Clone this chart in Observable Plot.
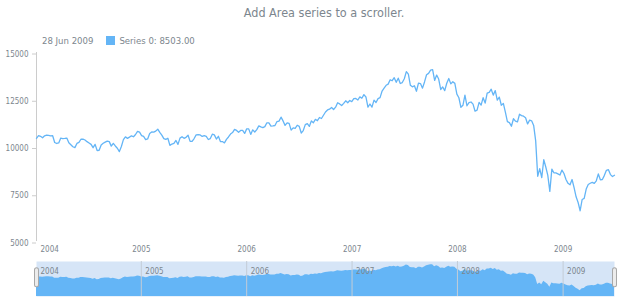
<!DOCTYPE html>
<html><head><meta charset="utf-8">
<script src="https://cdn.jsdelivr.net/npm/d3@7"></script>
<script src="https://cdn.jsdelivr.net/npm/@observablehq/plot@0.6"></script>
<style>
body{margin:0;background:#fff;font-family:"DejaVu Sans Condensed","DejaVu Sans",sans-serif;}
#wrap{position:relative;width:620px;height:300px;overflow:hidden;}
#title{position:absolute;top:5px;left:324px;transform:translateX(-50%);white-space:nowrap;font-size:12.5px;color:#7c868e;}
#legend{position:absolute;top:34px;left:42px;height:12px;font-size:9.5px;color:#7c868e;display:flex;align-items:center;white-space:nowrap;}
.sw{display:inline-block;width:9px;height:9px;background:#64b5f6;margin:0 4px 0 13px;}
#wrap svg{position:absolute;left:0;}
</style></head>
<body>
<div id="wrap">
  <div id="title"></div>
  <div id="legend"><span id="ldate"></span><span class="sw"></span><span id="lval"></span></div>
</div>
<script>
const title = "Add Area series to a scroller.";
const seriesName = "Series 0";
const firstWeek = new Date(2004, 0, 4);
const lastWeek = new Date(2009, 5, 28);
const yTicks = [5000, 7500, 10000, 12500, 15000];
const yearTicks = [2004, 2005, 2006, 2007, 2008, 2009];

// weekly values (one per week from 4 Jan 2004)
const values2004 = [10458,10600,10568,10488,10593,10628,10620,10584,10596,10240,10186,10213,10470,10443,10452,10473,10226,10118,10012,9967,10188,10243,10410,10417,10371,10282,10214,10140,9963,10140,9815,9825,10110,10196,10260,10314,10284,10047,10192,10055,9933,9757,10027,10387,10539,10456,10522,10592,10543,10661,10827,10783];
const values2005 = [10603,10558,10393,10427,10716,10796,10785,10841,10941,10774,10630,10442,10404,10461,10088,10157,10193,10345,10140,10471,10542,10460,10513,10623,10297,10303,10449,10640,10651,10640,10558,10600,10559,10397,10447,10678,10641,10419,10568,10292,10287,10215,10402,10530,10686,10766,10931,10877,10778,10875,10883,10718];
const values2006 = [10959,10960,10667,10907,10794,10919,11116,11061,11022,11076,11280,11279,11109,11120,11138,11347,11367,11578,11380,11144,11278,11247,10891,11014,10989,11150,11091,10739,10869,11185,11240,11088,11381,11284,11464,11392,11560,11508,11679,11851,11960,12002,12090,11986,12108,12342,12280,12194,12307,12445,12343,12463];
const values2007 = [12398,12556,12566,12487,12653,12580,12768,12647,12114,12276,12110,12481,12354,12560,12612,12961,13120,13264,13326,13556,13507,13668,13424,13640,13360,13409,13611,13990,13851,13266,13182,13240,12950,13379,13358,13114,13443,13821,13896,14066,14093,13522,13807,13595,13043,13177,12981,13372,13625,13339,13450,13366];
const values2008 = [12800,12606,12099,12207,12743,12182,12348,12381,12266,11894,11951,12361,12216,12610,12325,12849,12891,13058,12745,12986,12480,12638,12210,12308,11843,11346,11289,11100,11496,11370,11327,11734,11660,11628,11544,11220,11421,11388,11143,10325,8451,8852,8378,9325,8943,8497,7650,8829,8635,8629,8579,8515];
const values2009 = [8780,8599,8281,8077,8000,8280,7850,7366,7063,6627,7224,7279,7776,8018,8083,8131,8076,8212,8575,8268,8277,8500,8764,8799,8539,8438,8503];

const values = [...values2004, ...values2005, ...values2006, ...values2007, ...values2008, ...values2009];
const dates = d3.timeSunday.range(firstWeek, d3.timeDay.offset(lastWeek, 1));
const data = dates.map((d, i) => ({date: d, value: values[i]}));
const xDomain = [firstWeek, lastWeek];
const yearDates = yearTicks.map(y => new Date(y, 0, 1));
const innerYears = yearDates.slice(1);
const font = '"DejaVu Sans Condensed","DejaVu Sans",sans-serif';
const grey = "#7c868e";
const blue = "#64b5f6";

document.getElementById("title").textContent = title;
const last = data[data.length - 1];
document.getElementById("ldate").textContent = d3.timeFormat("%-d %b %Y")(last.date);
document.getElementById("lval").textContent = `${seriesName}: ${last.value.toFixed(2)}`;

const main = Plot.plot({
  width: 620, height: 262,
  marginTop: 52, marginBottom: 21, marginLeft: 36, marginRight: 6,
  style: {fontFamily: font, fontSize: "8px", color: grey, background: "transparent"},
  x: {type: "time", domain: xDomain},
  y: {domain: [5000, 15000]},
  marks: [
    Plot.ruleX([firstWeek], {stroke: "#cccccc"}),
    Plot.axisY({ticks: yTicks, tickSize: 4, tickPadding: 4, stroke: "#cccccc", fill: grey, dy: 1.5, tickFormat: d => String(d), label: null}),
    Plot.axisX({ticks: innerYears, tickSize: 0, tickPadding: 5, fill: grey, tickFormat: d => String(d.getFullYear()), label: null}),
    Plot.axisX({ticks: [firstWeek], tickSize: 0, tickPadding: 5, fill: grey, textAnchor: "start", dx: 4, tickFormat: () => String(yearTicks[0]), label: null}),
    Plot.lineY(data, {x: "date", y: "value", stroke: blue, strokeWidth: 1.3})
  ]
});
main.style.top = "0px";
document.getElementById("wrap").appendChild(main);

const scroll = Plot.plot({
  width: 620, height: 35,
  marginTop: 0, marginBottom: 0, marginLeft: 36, marginRight: 6,
  style: {fontFamily: font, fontSize: "8px", color: grey, background: "transparent", overflow: "visible"},
  x: {type: "time", domain: xDomain, axis: null},
  y: {domain: [5000, 15000], axis: null},
  marks: [
    Plot.frame({fill: "#d6e5f7", stroke: null}),
    Plot.areaY(data, {x: "date", y1: 5000, y2: "value", fill: blue}),
    Plot.ruleX(innerYears, {stroke: "#c3ccd6"}),
    Plot.text([firstWeek, ...innerYears], {x: d => d, text: (d, i) => String(yearTicks[i]), frameAnchor: "top", dy: 7, dx: 4, textAnchor: "start", fill: grey}),
    Plot.ruleX(xDomain, {y1: 8200, y2: 12500, stroke: "#a8a8a8", strokeWidth: 5, strokeLinecap: "round"}),
    Plot.ruleX(xDomain, {y1: 8200, y2: 12500, stroke: "#ececec", strokeWidth: 3, strokeLinecap: "round"})
  ]
});
scroll.style.top = "261px";
document.getElementById("wrap").appendChild(scroll);
</script>
</body></html>
